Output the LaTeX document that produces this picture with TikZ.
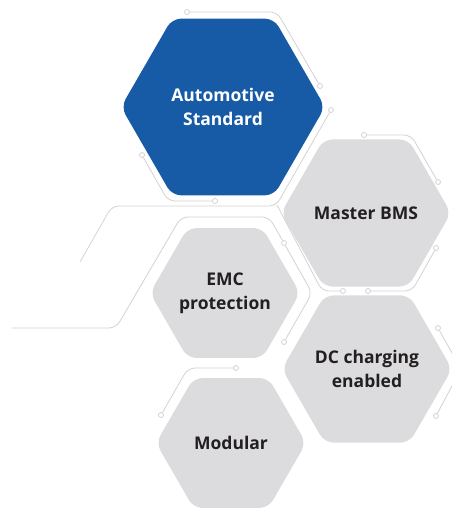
\documentclass[tikz,border=0pt]{standalone}
\usepackage{fontspec}
\setmainfont{Open Sans}
\usetikzlibrary{shapes.geometric}
\definecolor{autoblue}{HTML}{175AA6}
\definecolor{cellgray}{HTML}{DCDCDE}
\definecolor{tracegray}{HTML}{D2D2D4}
\definecolor{labeltext}{HTML}{231F20}
\begin{document}
\begin{tikzpicture}[x=1pt, y=-1pt,
  cell/.style={regular polygon, regular polygon sides=6, rounded corners=9pt, inner sep=0pt, fill=cellgray, text=labeltext, align=center, font=\fontsize{17.5}{24}\selectfont\bfseries},
  trace/.style={draw=tracegray, line width=0.8pt, rounded corners=7pt},
  via/.style={circle, draw=tracegray, line width=0.8pt, fill=white, inner sep=0pt, minimum size=5pt}]
\useasboundingbox (0,0) rectangle (451,508);
% vias
\node[via] (v1) at (187,12) {};
\node[via] (v2) at (320,86) {};
\node[via] (v3) at (331,110) {};
\node[via] (v4) at (142,155) {};
\node[via] (v5) at (215,201) {};
\node[via] (v6) at (284,243) {};
\node[via] (v7) at (284,342) {};
\node[via] (v8) at (364,135) {};
\node[via] (v9) at (438,182) {};
\node[via] (v10) at (343,291) {};
\node[via] (v11) at (368,291) {};
\node[via] (v12) at (436,248) {};
\node[via] (v13) at (438,328) {};
\node[via] (v14) at (436,416) {};
\node[via] (v15) at (236,368) {};
\node[via] (v16) at (161,415) {};
\coordinate (endA) at (12,328);
\coordinate (endB) at (80,262);
\coordinate (fork) at (277,205);
% traces
\draw[trace] (v1) -- (277,12) -- (v2);
\draw[trace] (v3) -- (276,206) -- (112,206) -- (endB);
\draw[trace] (fork) -- (322,291) -- (v10);
\draw[trace] (v4) -- (168,201) -- (v5);
\draw[trace] (endA) -- (116,328) -- (181,217) -- (269,217) -- (v6);
\draw[trace] (v6) -- (312,293) -- (v7);
\draw[trace] (v8) -- (411,135) -- (v9);
\draw[trace] (v11) -- (412,291) -- (v12);
\draw[trace] (v13) -- (461,369) -- (v14);
\draw[trace] (v15) -- (188,368) -- (v16);
% hexagons
\node[cell, minimum size=204pt, fill=autoblue, text=white] (auto) at (223,107) {Automotive\\Standard};
\node[cell, minimum size=166pt] (bms) at (366,213) {Master BMS};
\node[cell, minimum size=150pt] (emc) at (225,293) {EMC\\protection};
\node[cell, minimum size=168pt] (dc) at (367,369) {DC charging\\enabled};
\node[cell, minimum size=150pt] (mod) at (231,443) {Modular};
\end{tikzpicture}
\end{document}
